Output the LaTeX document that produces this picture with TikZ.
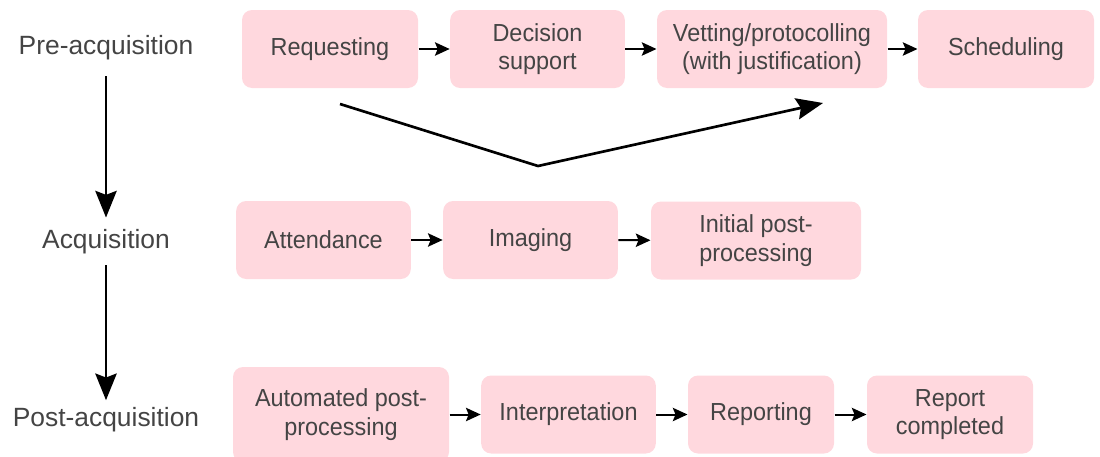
\documentclass[tikz,border=0pt]{standalone}
\usepackage{fontspec}
\setmainfont{Liberation Sans}
\newfontfamily\boxfont[FakeStretch=0.95]{Liberation Sans}
\usetikzlibrary{arrows.meta}
\definecolor{boxpink}{RGB}{255,216,222}
\definecolor{txtgrey}{RGB}{68,68,68}
\tikzset{every picture/.style={line width=0.75pt}}
\tikzset{
  stage/.style={fill=boxpink, rounded corners=7.5pt, text=txtgrey, align=center,
    font=\boxfont\fontsize{18.5}{21.4}\selectfont, minimum height=58.5pt, inner sep=0.75pt},
  phase/.style={text=txtgrey, font=\fontsize{19.8}{22}\selectfont, inner sep=0.75pt},
  flow/.style={-{Stealth[length=11pt,width=10pt,inset=2pt]}, line width=1.5pt},
  bigflow/.style={-{Stealth[length=20pt,width=16pt,inset=3pt]}, line width=2pt},
}
\begin{document}
\begin{tikzpicture}[x=0.75pt,y=0.75pt,yscale=-1,xscale=1]
\path[use as bounding box] (0,0) rectangle (1100,457);

% Text Node
\node [phase] (pre) at (106,48) {Pre-acquisition};
% Text Node
\node [phase] (acq) at (106,242) {Acquisition};
% Text Node
\node [phase] (post) at (106,420) {Post-acquisition};

%Shape: Rounded Rect
\node [stage, minimum width=132pt] (req) at (330,49) {Requesting};
%Shape: Rounded Rect
\node [stage, minimum width=131pt] (dec) at (537.5,49) {Decision\\support};
%Shape: Rounded Rect
\node [stage, minimum width=172.5pt] (vet) at (772,49) {Vetting/protocolling\\(with justification)};
%Shape: Rounded Rect
\node [stage, minimum width=132pt] (sch) at (1006,49) {Scheduling};

%Shape: Rounded Rect
\node [stage, minimum width=131pt] (att) at (323.5,240) {Attendance};
%Shape: Rounded Rect
\node [stage, minimum width=131pt] (img) at (530.5,240) {Imaging};
%Shape: Rounded Rect
\node [stage, minimum width=157.5pt] (ini) at (756,240.5) {Initial post-\\processing};

%Shape: Rounded Rect
\node [stage, minimum width=162pt, minimum height=71.25pt] (aut) at (341,414.5) {Automated post-\\processing};
%Shape: Rounded Rect
\node [stage, minimum width=131pt] (int) at (568.5,414.5) {Interpretation};
%Shape: Rounded Rect
\node [stage, minimum width=109.5pt] (rep) at (761,414.5) {Reporting};
%Shape: Rounded Rect
\node [stage, minimum width=124.5pt] (com) at (950,414.5) {Report\\completed};

%Straight Lines
\draw [bigflow, shorten <=11pt, shorten >=8pt] (pre.south) -- (acq.north);
\draw [bigflow, shorten <=7pt, shorten >=4.5pt] (acq.south) -- (post.north);

%Straight Lines
\draw [flow] (req) -- (dec);
\draw [flow] (dec) -- (vet);
\draw [flow] (vet) -- (sch);
\draw [flow] (att) -- (img);
\draw [flow] (img) -- (ini);
\draw [flow] (aut) -- (int);
\draw [flow] (int) -- (rep);
\draw [flow] (rep) -- (com);

%Straight Lines: skip to vetting
\coordinate (skipstart) at (340,104);
\coordinate (skipbend) at (538,166);
\coordinate (skipend) at (823,103);
\draw [bigflow] (skipstart) -- (skipbend) -- (skipend);
\end{tikzpicture}
\end{document}
